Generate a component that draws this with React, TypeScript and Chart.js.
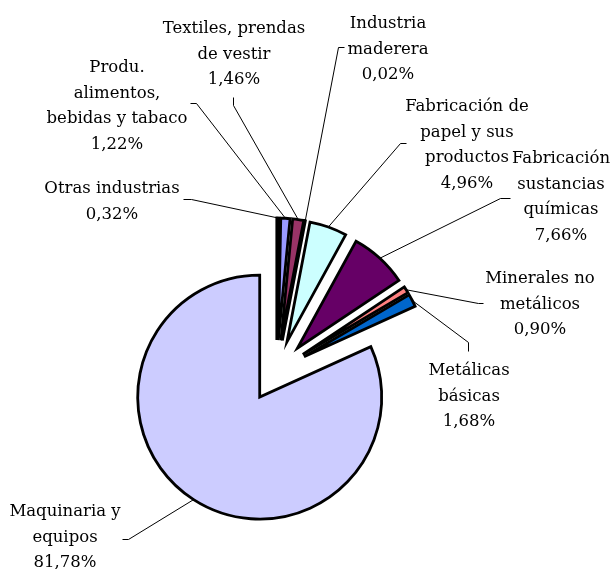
import React, { useEffect, useRef } from 'react';
import { Chart, ArcElement, PieController } from 'chart.js';

// ---- data ----
const CATEGORIES = [
  'Otras industrias',
  'Produ. alimentos, bebidas y tabaco',
  'Textiles, prendas de vestir',
  'Industria maderera',
  'Fabricación de papel y sus productos',
  'Fabricación sustancias químicas',
  'Minerales no metálicos',
  'Metálicas básicas',
  'Maquinaria y equipos',
];
const VALUES = [0.32, 1.22, 1.46, 0.02, 4.96, 7.66, 0.9, 1.68, 81.78];
const LABEL_LINES = [
  ['Otras industrias'],
  ['Produ.', 'alimentos,', 'bebidas y tabaco'],
  ['Textiles, prendas', 'de vestir'],
  ['Industria', 'maderera'],
  ['Fabricación de', 'papel y sus', 'productos'],
  ['Fabricación', 'sustancias', 'químicas'],
  ['Minerales no', 'metálicos'],
  ['Metálicas', 'básicas'],
  ['Maquinaria y', 'equipos'],
];

// ---- styles / layout ----
const COLORS = ['#000080', '#9999FF', '#993366', '#FFFFCC', '#CCFFFF', '#660066', '#FF8080', '#0066CC', '#CCCCFF'];
const EXPLODE = 31;
const FONT = '16.5px "DejaVu Serif"';
const LINE_H = 25.5;
// label block: centre x, first baseline y, leader polyline start (near the label)
const LABEL_LAYOUT = [
  { cx: 112, y: 193, lead: [[183, 199], [191, 199]] },
  { cx: 117, y: 72, lead: [[190, 103], [196, 103]] },
  { cx: 234, y: 33, lead: [[233, 97], [233, 105]] },
  { cx: 388, y: 28, lead: [[344, 47], [338, 47]] },
  { cx: 467, y: 111, lead: [[406, 143], [400, 143]] },
  { cx: 561, y: 163, lead: [[510, 198], [500, 198]] },
  { cx: 540, y: 283, lead: [[483, 303], [478, 303]] },
  { cx: 469, y: 375, lead: [[468, 351], [468, 342]] },
  { cx: 65, y: 516, lead: [[122, 539], [128, 539]] },
];

const pct = (v: number) => v.toFixed(2).replace('.', ',') + '%';

class ExplodedArc extends (ArcElement as any) {
  static id = 'explodedArc';
  draw(ctx: CanvasRenderingContext2D) {
    const self: any = this;
    const mid = (self.startAngle + self.endAngle) / 2;
    ctx.save();
    ctx.translate(Math.cos(mid) * EXPLODE, Math.sin(mid) * EXPLODE);
    super.draw(ctx);
    ctx.restore();
  }
}

class ExplodedPie extends (PieController as any) {
  static id = 'explodedPie';
  static defaults = { dataElementType: 'explodedArc' };
}

Chart.register(ArcElement, PieController, ExplodedArc as any, ExplodedPie as any);

const labelPlugin = {
  id: 'pieLabels',
  afterDatasetsDraw(chart: any) {
    const ctx: CanvasRenderingContext2D = chart.ctx;
    const meta = chart.getDatasetMeta(0);
    ctx.save();
    ctx.font = FONT;
    ctx.fillStyle = '#000';
    ctx.strokeStyle = '#000';
    ctx.lineWidth = 1;
    ctx.textAlign = 'center';
    ctx.textBaseline = 'alphabetic';
    meta.data.forEach((arc: any, i: number) => {
      const { x, y, startAngle, endAngle, outerRadius } = arc.getProps(
        ['x', 'y', 'startAngle', 'endAngle', 'outerRadius'],
        true
      );
      const mid = (startAngle + endAngle) / 2;
      const r = outerRadius + EXPLODE;
      const ex = x + Math.cos(mid) * r;
      const ey = y + Math.sin(mid) * r;
      const L = LABEL_LAYOUT[i];
      ctx.beginPath();
      L.lead.forEach((p, k) => {
        if (k === 0) ctx.moveTo(p[0] + 0.5, p[1] + 0.5);
        else ctx.lineTo(p[0] + 0.5, p[1] + 0.5);
      });
      ctx.lineTo(ex, ey);
      ctx.stroke();
      const lines = [...LABEL_LINES[i], pct(VALUES[i])];
      lines.forEach((t, k) => ctx.fillText(t, L.cx, L.y + k * LINE_H));
    });
    ctx.restore();
  },
};

export default function App() {
  const ref = useRef<HTMLCanvasElement>(null);
  useEffect(() => {
    if (!ref.current) return;
    const chart = new Chart(ref.current, {
      type: 'explodedPie' as any,
      data: {
        labels: CATEGORIES,
        datasets: [
          {
            data: VALUES,
            backgroundColor: COLORS,
            borderColor: '#000',
            borderWidth: 2.8,
            borderJoinStyle: 'miter',
          } as any,
        ],
      },
      options: {
        responsive: false,
        animation: false,
        events: [],
        radius: 122,
        layout: { padding: { left: 0, right: 58, top: 173, bottom: 0 } },
        plugins: { legend: { display: false }, tooltip: { enabled: false } },
      } as any,
      plugins: [labelPlugin],
    });
    return () => chart.destroy();
  }, []);
  return (
    <div style={{ position: 'absolute', left: 0, top: 0, width: 611, height: 569, background: '#fff' }}>
      <canvas ref={ref} width={611} height={569} style={{ display: 'block', width: 611, height: 569 }} />
    </div>
  );
}
